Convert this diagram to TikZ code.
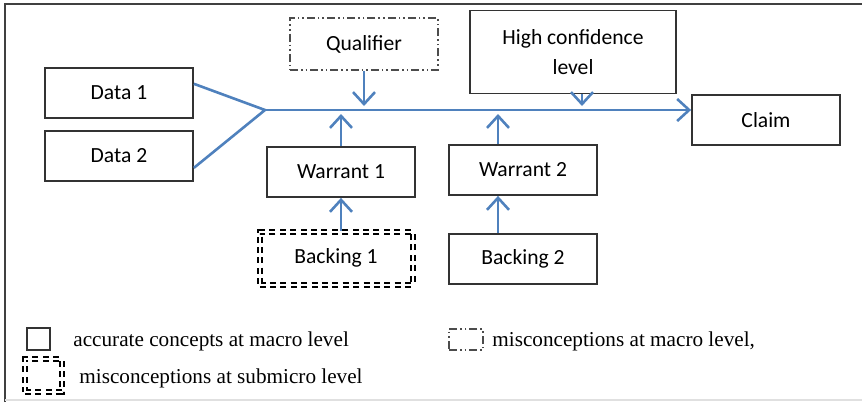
\documentclass[tikz,border=0pt]{standalone}
\usepackage{fontspec}
\setmainfont{Liberation Serif}
\newfontfamily\boxfont{Carlito}
\usetikzlibrary{arrows.meta,calc}

\definecolor{linkblue}{HTML}{4F81BD}
\definecolor{boxgray}{HTML}{333333}

\tikzset{
  box/.style={draw=boxgray, line width=0.9pt, minimum width=74pt, minimum height=25pt,
    inner sep=2pt, font=\boxfont\fontsize{10.8}{15}\selectfont},
  qualbox/.style={box, draw=black!70,
    dash pattern=on 4pt off 1.5pt on 0.8pt off 1.5pt on 0.8pt off 1.5pt},
  subbox/.style={box, draw=black, line width=1pt, double, double distance=1pt,
    dash pattern=on 3pt off 2.2pt},
  joinline/.style={draw=linkblue, line width=1.3pt},
  link/.style={joinline, -{Straight Barb[length=6pt,width=11pt]}},
  legtext/.style={anchor=west, inner sep=0pt, font=\fontsize{10.6}{12}\selectfont},
}

\begin{document}
\begin{tikzpicture}[x=0.5pt, y=-0.5pt]
  \useasboundingbox (0,0) rectangle (862,402);

  % frame
  \draw[black!75, line width=1.2pt] (5,402) -- (5,4) -- (862,4);
  \draw[black!12, line width=0.6pt] (5,400) -- (862,400);

  % data and claim
  \node[box] (data1) at (119,93) {Data 1};
  \node[box] (data2) at (119,156) {Data 2};
  \node[box] (claim) at (766,120) {Claim};

  % qualifier and confidence
  \node[qualbox, minimum height=26pt] (qual) at (364,44) {Qualifier};
  \node[box, minimum width=103pt, minimum height=41.5pt, align=center] (conf) at (573,52)
    {High confidence\\level};

  % warrants and backings
  \node[box] (war1) at (341,172) {Warrant 1};
  \node[box] (war2) at (523,170) {Warrant 2};
  \node[subbox, minimum width=76.5pt, minimum height=26.5pt] (back1) at (336,258) {Backing 1};
  \node[box] (back2) at (523,259) {Backing 2};

  % main line
  \coordinate (apex) at (265,110);
  \draw[joinline] (data1.7) -- (apex) -- (data2.-9);
  \draw[link] (apex) -- (apex -| claim.west);

  % arrows onto the main line
  \draw[link, shorten >=2pt] (qual.south) -- (qual.south |- apex);
  \coordinate (c1) at ($(conf.south)+(9,0)$);
  \draw[link, shorten >=2pt] (c1) -- (c1 |- apex);
  \draw[link, shorten >=2pt] (war1.north) -- (war1.north |- apex);
  \coordinate (w2) at ($(war2.north)+(-25,0)$);
  \draw[link, shorten >=2pt] (w2) -- (w2 |- apex);

  % backings to warrants
  \draw[link] (back1.north -| war1.south) -- (war1.south);
  \coordinate (b2) at ($(back2.north)+(-25,0)$);
  \draw[link] (b2) -- (b2 |- war2.south);

  % legend
  \node[box, minimum width=11.5pt, minimum height=11pt] (keyacc) at (38.5,339) {};
  \node[legtext] (txtacc) at (73,341) {accurate concepts at macro level};
  \node[qualbox, line width=0.6pt, minimum width=17pt, minimum height=10.5pt] (keymis) at (466,339.5) {};
  \node[legtext] (txtmis) at (492,341) {misconceptions at macro level,};
  \node[subbox, minimum width=18.5pt, minimum height=16.5pt] (keysub) at (43.5,375.5) {};
  \node[legtext] (txtsub) at (79,378) {misconceptions at submicro level};
\end{tikzpicture}
\end{document}
